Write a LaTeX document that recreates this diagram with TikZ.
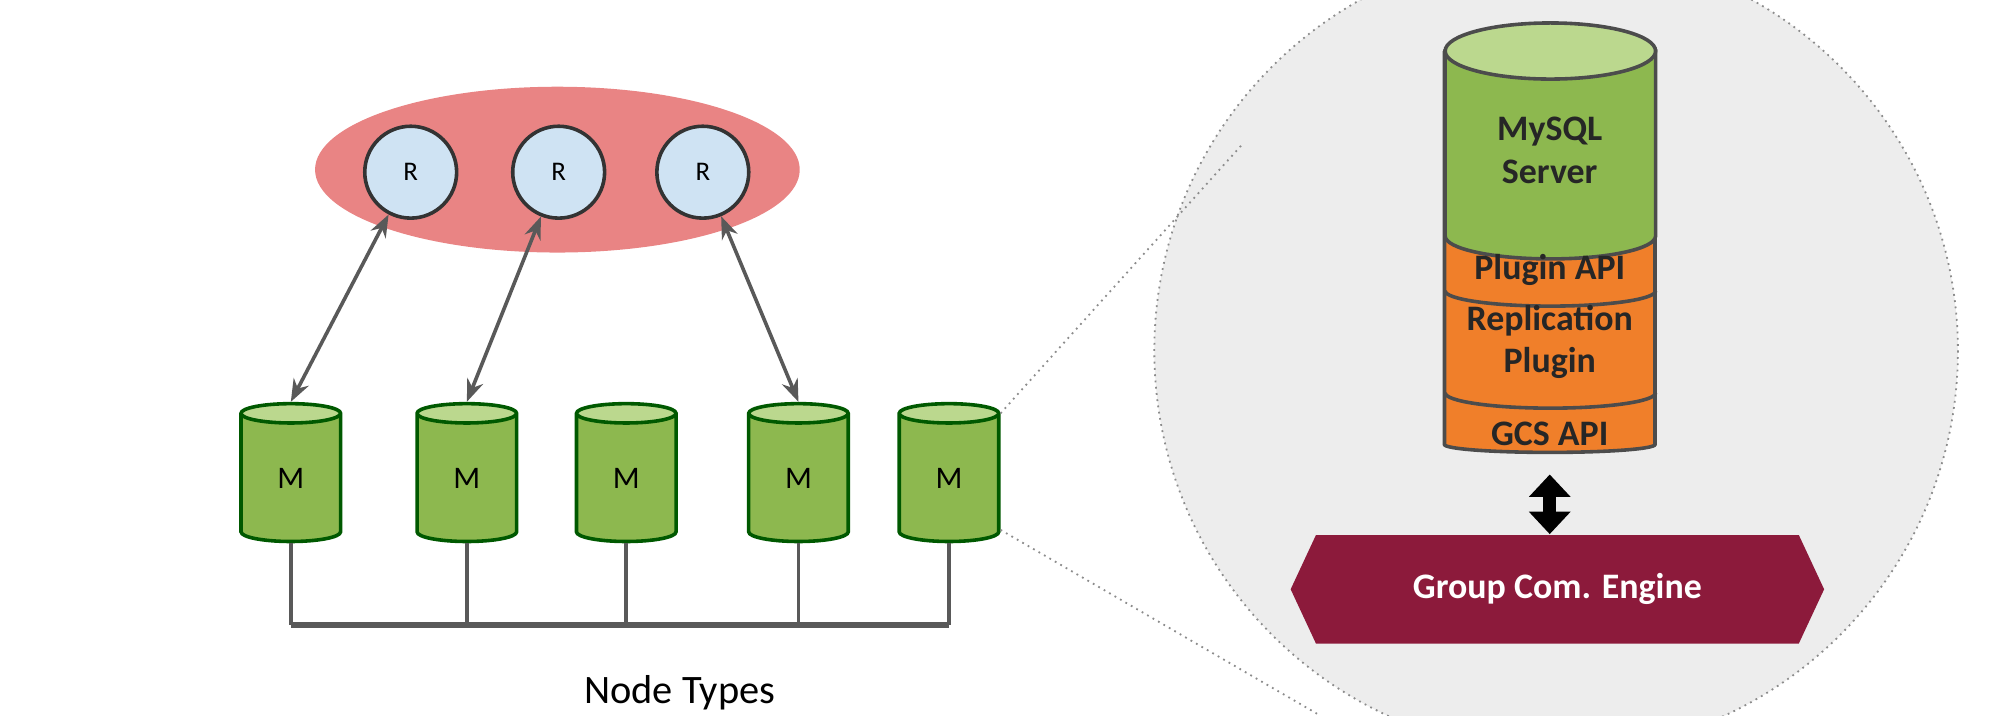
\documentclass[tikz,border=0pt]{standalone}
\usepackage{fontspec}
\setmainfont{Carlito}
\usetikzlibrary{shapes.geometric,shapes.symbols,arrows.meta}
\definecolor{mgreen}{HTML}{8DB84F}
\definecolor{mgreenlt}{HTML}{BBD88E}
\definecolor{rblue}{HTML}{CFE3F3}
\definecolor{rpink}{HTML}{E98484}
\definecolor{sorange}{HTML}{F07F2A}
\definecolor{gcsred}{HTML}{8C1A3B}
\begin{document}
\begin{tikzpicture}[x=0.01cm,y=-0.01cm,
    member/.style={cylinder,shape border rotate=90,draw=green!35!black,thick,
      cylinder uses custom fill,cylinder body fill=mgreen,cylinder end fill=mgreenlt,
      minimum width=0.78cm,minimum height=1.08cm,aspect=0.72,inner sep=0pt,font=\fontsize{7}{8}\selectfont},
    router/.style={circle,draw=black!80,thick,fill=rblue,minimum size=0.72cm,inner sep=0pt,font=\fontsize{6}{7}\selectfont},
    layer/.style={font=\bfseries\fontsize{8}{9.5}\selectfont,align=center,text=black!85},
    link/.style={<->,>={Stealth[length=5pt]},draw=black!65,thick},
    bus/.style={draw=black!65,thick}]
  \useasboundingbox (0,0) rectangle (1568,561);
  % zoomed member
  \fill[black!7] (1220,275) circle (315);
  \draw[black!45,densely dotted] (1220,275) circle (315);
  \coordinate (zoomtop) at (975,112);
  \coordinate (zoombot) at (1035,561);
  % routers
  \fill[rpink] (437,133) ellipse (190 and 65);
  \node[router] (r1) at (322,135) {R};
  \node[router] (r2) at (438,135) {R};
  \node[router] (r3) at (551,135) {R};
  % members
  \foreach \i/\x in {1/228,2/366,3/491,4/626,5/744}
    \node[member] (m\i) at (\x,375) {M};
  \path[link] (r1) edge (m1.top) (r2) edge (m2.top) (r3) edge (m4.top);
  \foreach \i in {1,...,5}
    \draw[bus] (m\i.bottom) -- (m\i.bottom |- 0,490);
  \draw[bus,very thick] (m1.bottom |- 0,490) -- (m5.bottom |- 0,490);
  \node[font=\fontsize{9}{10}\selectfont] (types) at (533,543) {Node Types};
  \draw[black!45,densely dotted] (m5.after top) -- (zoomtop);
  \draw[black!45,densely dotted] (m5.south east) -- (zoombot);
  % stack
  \node[cylinder,shape border rotate=90,draw=black!70,thick,fill=sorange,
    minimum width=1.65cm,minimum height=3.2cm,aspect=0.53] (stack) at (1215,200) {};
  \fill[mgreen,draw=black!70,thick] (1133,40) -- (1133,185) arc[start angle=180,end angle=360,x radius=82.5,y radius=-18] -- (1298,40) -- cycle;
  \fill[mgreenlt,draw=black!70,thick] (1215.5,40) ellipse (82.5 and 22);
  \draw[black!70,thick] (1133,228) arc[start angle=180,end angle=360,x radius=82.5,y radius=-12];
  \draw[black!70,thick] (1133,308) arc[start angle=180,end angle=360,x radius=82.5,y radius=-12];
  \node[layer] (server) at (1215,118) {MySQL\\Server};
  \node[layer] (pluginapi) at (1215,212) {Plugin API};
  \node[layer] (replication) at (1215,268) {Replication\\Plugin};
  \node[layer] (gcsapi) at (1215,340) {GCS API};
  \node[signal,signal to=east and west,signal pointer angle=130,fill=gcsred,
    minimum width=4.18cm,minimum height=0.85cm,text=white,
    font=\bfseries\fontsize{8}{9}\selectfont] (engine) at (1221,462) {Group Com. Engine};
  \draw[{Triangle[length=5pt,width=9pt]}-{Triangle[length=5pt,width=9pt]},line width=3pt] (stack.bottom |- 0,372) -- (engine.north -| stack.bottom);
\end{tikzpicture}
\end{document}
